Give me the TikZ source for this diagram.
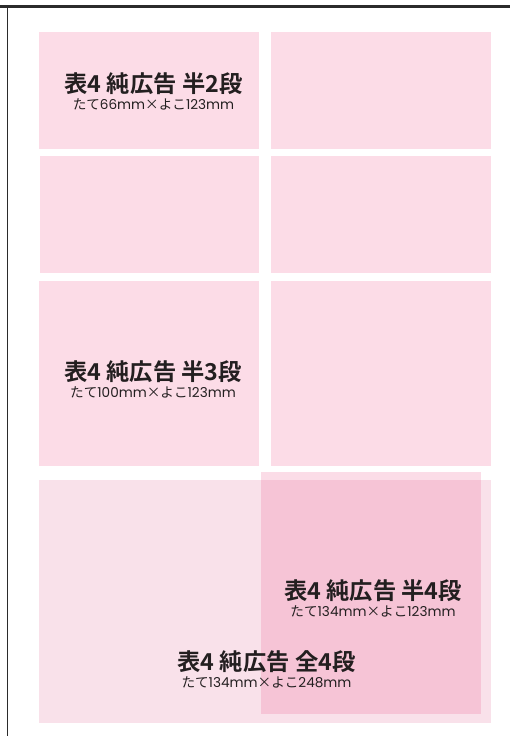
\documentclass[tikz,border=0pt]{standalone}
\usepackage{fontspec}
\newfontfamily\jpfont{Noto Sans CJK JP}[BoldFont={Noto Sans CJK JP Bold}]
\newfontfamily\latfont{Poppins}
\usetikzlibrary{positioning}

\definecolor{slotpink}{HTML}{FCDCE7}
\definecolor{fullpink}{HTML}{F9E1EA}
\definecolor{overlaypink}{RGB}{235,80,135}
\definecolor{inkgray}{HTML}{231F20}
\definecolor{framegray}{HTML}{2B2B2B}

% lateinische teile der masse
\newcommand{\lat}[1]{{\latfont #1}}

\begin{document}
\begin{tikzpicture}[x=1pt,y=-1pt,
		slot/.style={fill=#1,draw=none},
		slot/.default=slotpink,
		titel/.style={font=\jpfont\bfseries\fontsize{23.3}{23.3}\selectfont,text=inkgray,inner sep=0pt},
		mass/.style={font=\jpfont\fontsize{13.6}{13.6}\selectfont,text=inkgray,inner sep=0pt}]
		
		\useasboundingbox (0,0) rectangle (510,736);
		
		%rand
		\draw[line width=3pt,framegray] (0,6.5) -- (510,6.5);
		\draw[line width=1.3pt,framegray] (7.5,8) -- (7.5,736);
		
		%halbe felder
		\foreach \links/\oben/\rechts/\unten in {39/32/259/149, 271/32/491/149, 40/156/259/273, 271/156/491/273, 
			39/281/259/466, 271/281/491/466}
		\fill[slot] (\links,\oben) rectangle (\rechts,\unten);
		
		%ganze seite
		\fill[slot=fullpink] (39,480) rectangle (491,723);
		\fill[overlaypink,fill opacity=0.2] (261,472) rectangle (481,714);
		
		%texte
		\node[titel] (titel1) at (153.5,84) {表4 純広告 半2段};
		\node[mass,below=3.5pt of titel1] (mass1) {たて\lat{66mm}×よこ\lat{123mm}};
		
		\node[titel] (titel2) at (153,371.5) {表4 純広告 半3段};
		\node[mass,below=3.5pt of titel2] (mass2) {たて\lat{100mm}×よこ\lat{123mm}};
		
		\node[titel] (titel3) at (373,591) {表4 純広告 半4段};
		\node[mass,below=3.5pt of titel3] (mass3) {たて\lat{134mm}×よこ\lat{123mm}};
		
		\node[titel] (titel4) at (266.5,662) {表4 純広告 全4段};
		\node[mass,below=3.5pt of titel4] (mass4) {たて\lat{134mm}×よこ\lat{248mm}};
		
\end{tikzpicture}
\end{document}
